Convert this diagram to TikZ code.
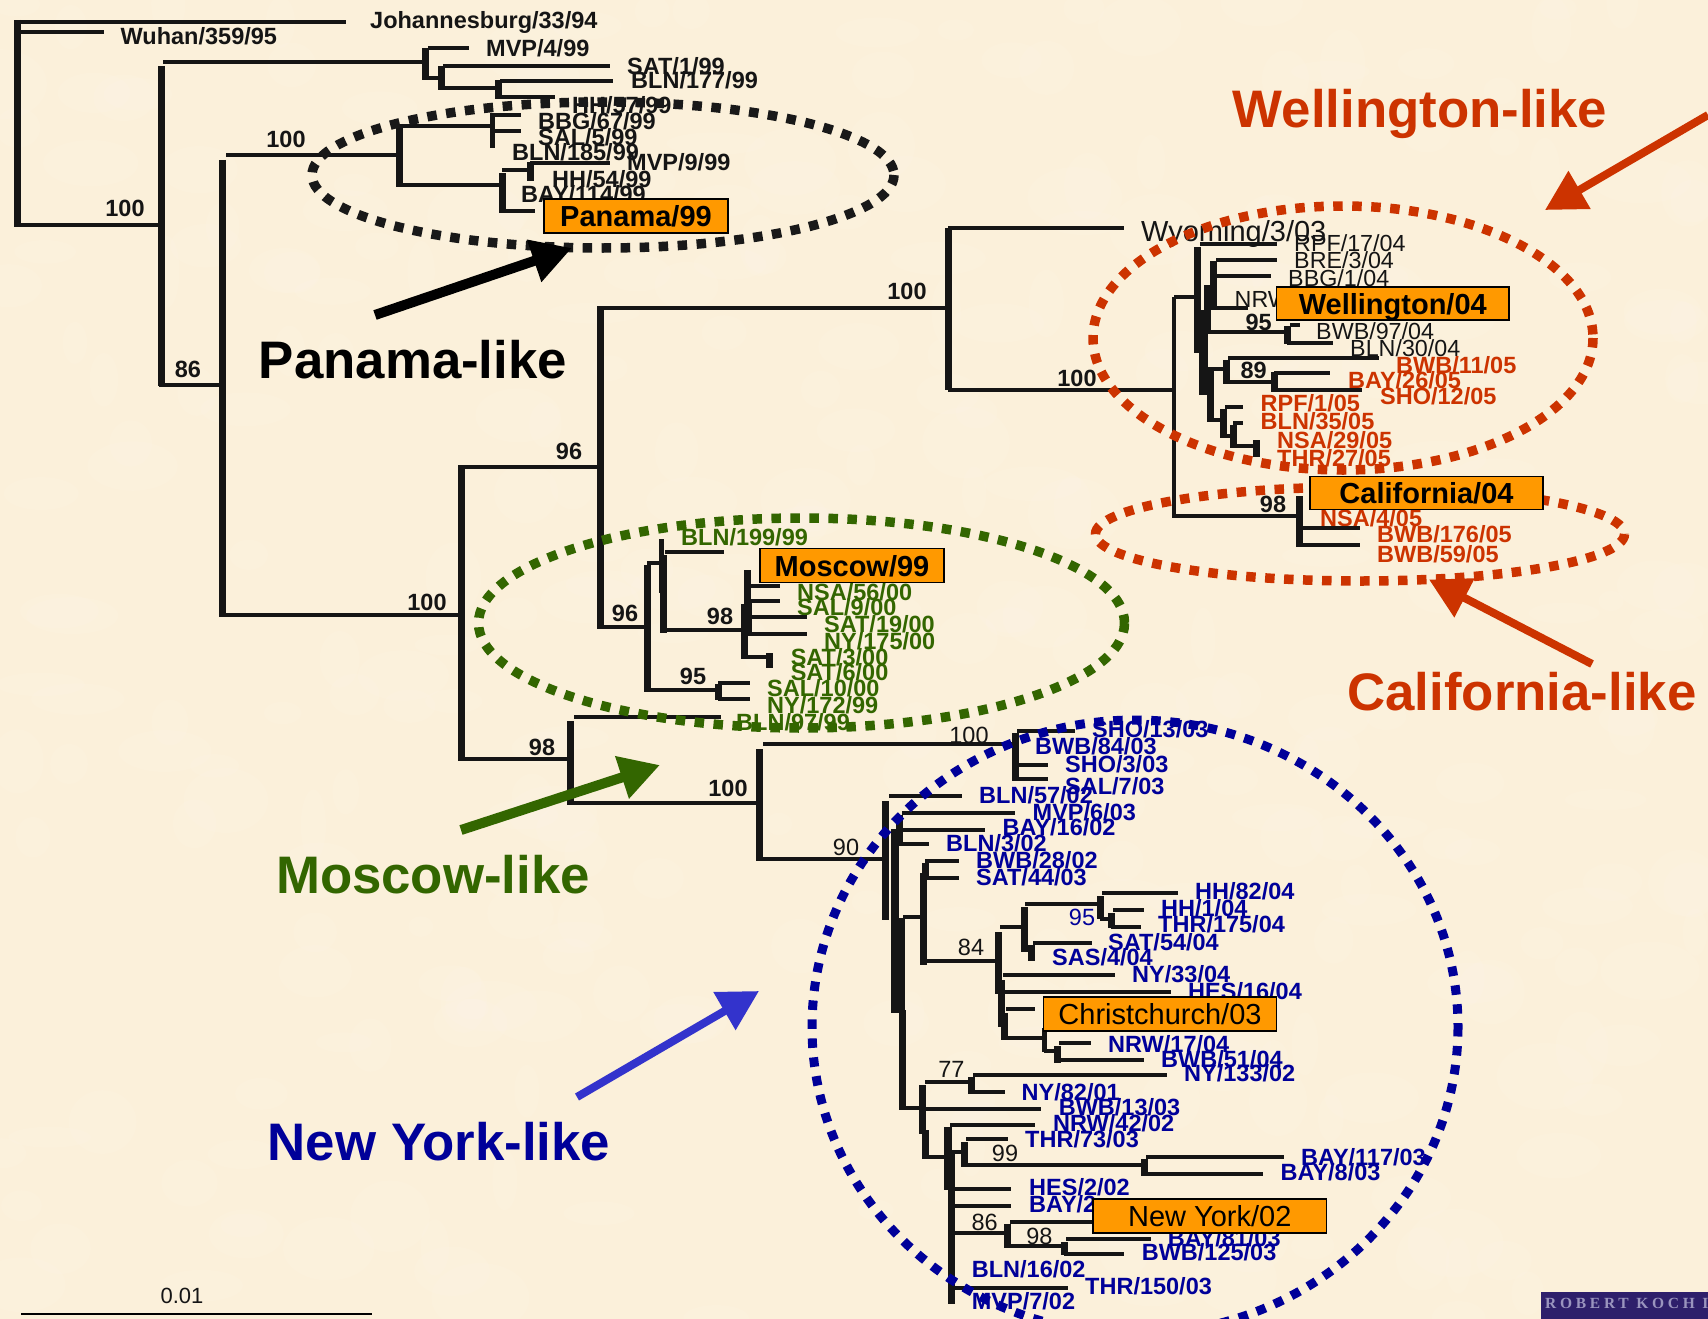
\documentclass[tikz,border=0pt]{standalone}
\usepackage{fontspec}
\setmainfont{Liberation Sans}
\newfontfamily\bannerfont{Liberation Serif}
\usetikzlibrary{arrows.meta,calc}
\definecolor{bgc}{HTML}{FBF0DA}
\definecolor{ink}{HTML}{151515}
\definecolor{redc}{HTML}{CC3300}
\definecolor{grnc}{HTML}{336600}
\definecolor{bluc}{HTML}{000099}
\definecolor{arrblue}{HTML}{3333CC}
\definecolor{boxc}{HTML}{FF9900}
\definecolor{banc}{HTML}{2E1F6B}
\definecolor{bant}{HTML}{9A94BE}
\tikzset{
  x=1pt,y=-1pt,
  hbr/.style={draw=ink,line width=4pt},
  vbr/.style={draw=ink,line width=7pt},
  lab/.style={anchor=west,inner sep=0pt,text height=17pt,text depth=0pt,font=\fontsize{23.5}{23.5}\selectfont\bfseries},
  lk/.style={lab,text=ink},
  lr/.style={lab,text=redc},
  lg/.style={lab,text=grnc},
  lb/.style={lab,text=bluc},
  lreg/.style={lab,text=ink,font=\fontsize{23.3}{23.3}\selectfont},
  sup/.style={anchor=center,inner sep=0pt,text=ink,text height=17pt,text depth=0pt,font=\fontsize{23.5}{23.5}\selectfont\bfseries},
  supreg/.style={sup,font=\fontsize{23.5}{23.5}\selectfont},
  strainbox/.style={inner sep=0pt,text=black,text height=21pt,text depth=0pt,font=\fontsize{29}{29}\selectfont\bfseries},
  strainreg/.style={strainbox,font=\fontsize{29}{29}\selectfont},
  dots/.style={line width=9.5pt,dash pattern=on 9.5pt off 9.5pt},
  biglab/.style={anchor=center,inner sep=0pt,text height=38pt,text depth=0pt,font=\fontsize{52.8}{53}\selectfont\bfseries},
  bigarrow/.style={-{Triangle[length=40pt,width=42pt]},line width=8pt},
}
\newcommand{\leafb}[8]{% name, style, lx, ly, text, x0, x1, y
  \node[#2] (#1) at (#3,#4) {#5};
  \coordinate (#1-a) at (#6,#8);
  \coordinate (#1-b) at (#7,#8);
  \draw[hbr] (#1-a) -- (#1-b);}
\newcommand{\hb}[3]{\draw[hbr] (#1,#3) -- (#2,#3);}
\newcommand{\vb}[4][7pt]{\draw[vbr,line width=#1] (#2,#3) -- (#2,#4);}
\newcommand{\straintext}[7]{% name style x0 y0 x1 y1 text
  \path (#3,#4) coordinate (#1-nw) (#5,#6) coordinate (#1-se);
  \draw[draw=black,line width=1.6pt,fill=boxc] (#1-nw) rectangle (#1-se);
  \node[#2] (#1) at ($(#1-nw)!0.5!(#1-se)$) {#7};}
\begin{document}
\begin{tikzpicture}
\useasboundingbox (0,0) rectangle (1708,1319);
\clip (0,0) rectangle (1708,1319);
\fill[bgc] (0,0) rectangle (1708,1319);
% faint mottled paper texture
\pgfmathsetseed{11}
\foreach \i in {1,...,320}{
  \pgfmathsetmacro{\bx}{rnd*1708}
  \pgfmathsetmacro{\by}{rnd*1319}
  \pgfmathsetmacro{\brx}{12+rnd*38}
  \pgfmathsetmacro{\bry}{10+rnd*26}
  \fill[white,opacity=0.07] (\bx,\by) ellipse [x radius=\brx,y radius=\bry];
}
% --- root ---
\vb[6.5pt]{17.6}{20}{227}
\leafb{joh}{lk}{370}{20}{Johannesburg/33/94}{17}{346}{22}
\leafb{wuh}{lk}{120.5}{36}{Wuhan/359/95}{17}{104}{32}
\hb{15}{161}{225}
\node[sup] (s1) at (125,208) {100};
\vb{161}{66}{386}
\hb{163}{422}{62}
\vb{425.5}{48}{80}
\leafb{mvp4}{lk}{486}{48}{MVP/4/99}{428}{469}{48}
\hb{425}{440}{78}
\vb{441}{66}{90}
\leafb{sat1}{lk}{627}{66}{SAT/1/99}{443}{610}{66}
\hb{441}{498}{88}
\vb{498}{80}{99}
\leafb{bln177}{lk}{631}{80}{BLN/177/99}{500}{613}{81}
\leafb{hh57}{lk}{572}{105}{HH/57/99}{498}{555}{97}
% Panama clade
\hb{159}{222}{385}
\node[sup] (s2) at (188,369) {86};
\vb{222}{160}{617}
\hb{226}{396}{155}
\node[sup] (s3) at (286,139) {100};
\vb{399}{124}{187}
\hb{399}{492}{126}
\vb[5pt]{492}{113}{148}
\leafb{bbg67}{lk}{538}{121}{BBG/67/99}{492}{521}{115}
\leafb{sal5}{lk}{538}{137}{SAL/5/99}{492}{521}{131}
\node[lk] (bln185) at (512,152) {BLN/185/99};
\hb{399}{502}{185}
\vb{502}{173}{213}
\hb{502}{535}{211}
\hb{502}{531}{170}
\vb{530}{162}{181}
\leafb{mvp9}{lk}{627}{162}{MVP/9/99}{530}{610}{163}
\node[lk] (hh54) at (552,179) {HH/54/99};
\node[lk] (bay114) at (521,194) {BAY/114/99};
% backbone
\hb{222}{461}{615}
\node[sup] (s4) at (427,602) {100};
\vb{461}{465}{761}
\hb{465}{600}{467}
\node[sup] (s5) at (569,451) {96};
\vb{600.4}{306}{629}
\hb{600}{948}{308}
\node[sup] (s6) at (907,291) {100};
\vb{948}{228}{390}
% Wellington / California
\leafb{wyo}{lreg,font=\fontsize{29}{29}\selectfont,text height=21pt}{1141}{231}{Wyoming/3/03}{948}{1123.5}{228}
\hb{948}{1174}{390}
\node[sup] (s7) at (1077,378) {100};
\vb[4pt]{1174}{297}{518}
\hb{1174}{1195}{297}
\vb{1197}{247}{353}
\leafb{rpf17}{lreg}{1294}{243}{RPF/17/04}{1200}{1276.5}{244}
\vb{1213.4}{261}{310}
\vb{1207}{285}{330}
\leafb{bre3}{lreg}{1294}{260}{BRE/3/04}{1216}{1277}{260}
\leafb{bbg1}{lreg}{1288}{278}{BBG/1/04}{1216}{1271}{276}
\leafb{nrw}{lreg}{1234.5}{299}{NRW}{1213}{1248}{308}
\vb[9pt]{1203}{310}{395}
\node[sup] (s8) at (1258.6,322) {95};
\hb{1203}{1285}{332}
\vb{1287}{326}{344}
\leafb{bwb97}{lreg}{1316}{331}{BWB/97/04}{1290}{1299.5}{325}
\leafb{bln30}{lreg}{1350}{348}{BLN/30/04}{1287}{1333}{343}
\hb{1207}{1224}{369}
\vb{1226}{360}{384}
\leafb{bwb11}{lr}{1396}{365}{BWB/11/05}{1228}{1379}{358}
\node[sup] (s9) at (1253.6,370) {89};
\hb{1226}{1274}{382}
\vb{1274}{372}{392}
\leafb{bay26}{lr}{1348}{380}{BAY/26/05}{1274}{1330}{373}
\leafb{sho12}{lr}{1380}{396}{SHO/12/05}{1274}{1362}{390}
\vb{1210}{370}{422}
\hb{1210}{1222}{420}
\vb{1223}{409}{438}
\leafb{rpf1}{lr}{1260.5}{403}{RPF/1/05}{1225}{1242.5}{407}
\hb{1223}{1232}{436}
\vb{1233}{425}{448}
\leafb{bln35}{lr}{1260.5}{421}{BLN/35/05}{1233}{1242.5}{423}
\hb{1233}{1256}{446}
\vb{1256.6}{440}{457}
\node[lr] (nsa29) at (1277,440) {NSA/29/05};
\node[lr] (thr27) at (1277,458) {THR/27/05};
\hb{1174}{1299}{516}
\node[sup] (s10) at (1273,504) {98};
\vb{1299.5}{496}{547}
\node[lr] (nsa4) at (1320,518) {NSA/4/05};
\leafb{bwb176}{lr}{1377}{534}{BWB/176/05}{1299}{1360}{528}
\leafb{bwb59}{lr}{1377}{554}{BWB/59/05}{1299}{1360}{545}
% Moscow clade
\hb{600}{647}{627}
\node[sup] (s11) at (625,613) {96};
\vb{647}{565}{692}
\hb{647}{660}{563}
\vb[5pt]{661}{539}{593}
\vb{663}{555}{633}
\leafb{bln199}{lg}{681}{537}{BLN/199/99}{665}{723.7}{552}
\hb{663}{742}{630}
\node[sup] (s12) at (720,616) {98};
\vb{747}{570}{633}
\vb{744}{604}{659}
\vb[8pt]{748}{600}{633}
\leafb{nsa56}{lg}{797}{592}{NSA/56/00}{747}{779.5}{586}
\leafb{sal9}{lg}{797}{607}{SAL/9/00}{747}{779.5}{601}
\leafb{sat19}{lg}{824}{624}{SAT/19/00}{750}{807}{617}
\leafb{ny175}{lg}{824}{641}{NY/175/00}{747}{807}{634}
\hb{744}{769}{657}
\vb{769.5}{653}{668}
\node[lg] (sat3) at (790.6,657) {SAT/3/00};
\node[lg] (sat6) at (790.6,672) {SAT/6/00};
\hb{647}{716}{690}
\vb{718}{684}{700}
\node[sup] (s13) at (693,676) {95};
\leafb{sal10}{lg}{767}{688}{SAL/10/00}{718}{750}{683}
\leafb{ny172}{lg}{767}{705}{NY/172/99}{718}{750}{699}
% New York clade
\hb{461}{574}{759}
\node[sup] (s14) at (542,747) {98};
\vb{570.5}{721}{805}
\leafb{bln97}{lg}{736}{722}{BLN/97/99}{574}{721}{717}
\hb{568}{759}{803}
\node[sup] (s15) at (728,788) {100};
\vb{759.4}{749}{861}
\hb{763}{1012.5}{744}
\node[supreg] (s16) at (969,735) {100};
\vb{1015}{733}{781}
\leafb{sho13}{lb}{1092}{729}{SHO/13/03}{1017}{1074.6}{731}
\node[lb] (bwb84) at (1035,746) {BWB/84/03};
\leafb{sho3}{lb}{1065}{764}{SHO/3/03}{1015}{1048}{765}
\leafb{sal7}{lb}{1065}{786}{SAL/7/03}{1015}{1048}{779}
\hb{759}{885}{859}
\node[supreg] (s17) at (846,847) {90};
\vb{885.4}{801}{920}
\leafb{bln57}{lb}{979}{795}{BLN/57/02}{889}{962}{796}
\vb{899}{815}{846}
\leafb{mvp6}{lb}{1032.5}{812}{MVP/6/03}{902}{1015}{813}
\leafb{bay16}{lb}{1002.5}{827}{BAY/16/02}{899}{985}{830}
\leafb{bln3}{lb}{946}{843}{BLN/3/02}{899}{929}{844}
\vb[8pt]{895}{829}{1013}
\vb[13pt]{898.6}{918}{1013}
\vb{902.5}{1010}{1110}
\hb{903}{921}{917}
\vb{923}{873}{965}
\vb{925.4}{863}{880}
\leafb{bwb28}{lb}{976}{860}{BWB/28/02}{925}{958.6}{861}
\leafb{sat44}{lb}{976}{877}{SAT/44/03}{925}{958.6}{878}
\hb{923}{998}{961}
\node[supreg] (s18) at (971,947) {84};
\vb{998.6}{932}{994}
\hb{1000}{1023}{927}
\vb{1024.6}{907}{952}
\hb{1025}{1098}{904}
\vb{1100.7}{896}{919}
\leafb{hh82}{lb}{1195}{891}{HH/82/04}{1102}{1177.5}{893}
\hb{1100}{1110}{919}
\vb{1111}{913}{928}
\leafb{hh1}{lb}{1161}{908}{HH/1/04}{1113}{1143.6}{910}
\leafb{thr175}{lb}{1158}{924}{THR/175/04}{1111}{1140.7}{927}
\node[supreg,text=bluc] (s19) at (1082,917) {95};
\hb{1024}{1030}{950}
\vb{1031}{945}{961}
\leafb{sat54}{lb}{1108}{942}{SAT/54/04}{1033}{1092}{943}
\node[lb] (sas4) at (1052,957) {SAS/4/04};
\leafb{ny33}{lb}{1132}{974}{NY/33/04}{1003}{1115}{975}
\vb{1001.4}{980}{1027}
\leafb{hes16}{lb}{1188}{991}{HES/16/04}{1003}{1171}{992}
\hb{1006}{1034.6}{1009}
\vb{1004}{1013}{1040}
\hb{1004}{1046}{1038}
\vb[5pt]{1044}{1028}{1052}
\hb{1044}{1056}{1051}
\vb{1057}{1046}{1063}
\leafb{nrw17}{lb}{1108}{1044}{NRW/17/04}{1059}{1091}{1043}
\leafb{bwb51}{lb}{1161}{1059}{BWB/51/04}{1057}{1144}{1060}
\hb{902}{921}{1108}
\vb{922.7}{1085}{1134}
\hb{925}{970.5}{1082}
\node[supreg] (s20) at (951.4,1069) {77};
\vb{971}{1077}{1094}
\leafb{ny133}{lb}{1184}{1073}{NY/133/02}{973}{1167}{1075}
\leafb{ny82}{lb}{1021.5}{1092}{NY/82/01}{971}{1005}{1092}
\leafb{bwb13}{lb}{1058.6}{1107}{BWB/13/03}{926}{1040.6}{1109}
\vb{925.4}{1130}{1159}
\hb{925}{949}{1157}
\vb[8pt]{948.4}{1127}{1190}
\leafb{nrw42}{lb}{1053}{1123}{NRW/42/02}{950}{1035}{1125}
\vb{951.4}{1150}{1304}
\hb{951}{963}{1152}
\vb{964}{1142}{1167}
\leafb{thr73}{lb}{1025}{1139}{THR/73/03}{966}{1008}{1139}
\hb{964}{1143}{1165}
\node[supreg] (s21) at (1005,1153) {99};
\vb{1144}{1159}{1176}
\leafb{bay117}{lb}{1301}{1157}{BAY/117/03}{1146}{1283.6}{1157}
\leafb{bay8}{lb}{1280.5}{1172}{BAY/8/03}{1144}{1262.5}{1174}
\leafb{hes2}{lb}{1029}{1187}{HES/2/02}{951}{1011}{1189}
\leafb{bay2}{lb}{1029}{1204}{BAY/2}{951}{1011}{1206}
\hb{951}{1005}{1233}
\node[supreg] (s22) at (984.7,1222) {86};
\vb{1007}{1224}{1248}
\hb{1010}{1093}{1222}
\hb{1007}{1062}{1246}
\node[supreg] (s23) at (1039.4,1236) {98};
\vb{1064}{1242}{1255}
\leafb{bay81}{lb}{1167.6}{1238}{BAY/81/03}{1066}{1151}{1239}
\leafb{bwb125}{lb}{1141.6}{1252}{BWB/125/03}{1064}{1124}{1254}
\node[lb] (bln16) at (971.7,1269) {BLN/16/02};
\leafb{thr150}{lb}{1085}{1286}{THR/150/03}{951}{1068}{1288}
\node[lb] (mvp7) at (971.7,1301) {MVP/7/02};
% --- dotted ellipses ---
\draw[dots,black!90] (603,175) ellipse [x radius=291,y radius=73];
\draw[dots,redc] (1343,338) ellipse [x radius=250,y radius=132];
\draw[dots,redc] (1360,534) ellipse [x radius=264.5,y radius=47];
\draw[dots,grnc] (801.5,623) ellipse [x radius=323,y radius=105];
\draw[dots,bluc,line width=9pt] (1135,1027) ellipse [x radius=323,y radius=307];
% --- strain boxes ---
\straintext{panama}{strainbox}{544}{199}{728}{233}{Panama/99}
\straintext{wellington}{strainbox}{1276.5}{287}{1509}{320}{Wellington/04}
\straintext{california}{strainbox}{1310}{476.5}{1543}{509.5}{California/04}
\straintext{moscow}{strainbox}{760}{548.5}{944}{582.5}{Moscow/99}
\straintext{christchurch}{strainreg}{1043.6}{997}{1276.4}{1031}{Christchurch/03}
\straintext{newyork}{strainreg}{1093}{1199}{1326.5}{1233}{New York/02}
% --- clade labels and arrows ---
\node[biglab,text=redc] (wl) at (1420,109) {Wellington-like};
\node[biglab,text=black] (pl) at (413,359) {Panama-like};
\node[biglab,text=redc] (cl) at (1522,691) {California-like};
\node[biglab,text=grnc] (ml) at (433,874) {Moscow-like};
\node[biglab,text=bluc] (nl) at (439,1141) {New York-like};
\coordinate (pa) at (375,315); \coordinate (pb) at (572,248);
\coordinate (wa) at (1708,115); \coordinate (wb) at (1545,210);
\coordinate (ca) at (1592,664); \coordinate (cb) at (1429,579.5);
\coordinate (ma) at (461,830); \coordinate (mb) at (660,765);
\coordinate (na) at (577,1097); \coordinate (nb) at (759,991);
\draw[bigarrow,black,line width=10pt] (pa) -- (pb);
\draw[bigarrow,redc] (wa) -- (wb);
\draw[bigarrow,redc] (ca) -- (cb);
\draw[bigarrow,grnc,line width=10pt] (ma) -- (mb);
\draw[bigarrow,arrblue] (na) -- (nb);
% --- scale bar ---
\coordinate (sa) at (21,1313.7); \coordinate (sb) at (372,1313.7);
\draw[black,line width=1.6pt] (sa) -- (sb);
\node[anchor=center,inner sep=0pt,text=ink,font=\fontsize{22}{22}\selectfont] (scale) at (182,1296) {0.01};
% --- banner ---
\fill[banc] (1541,1292) rectangle (1708,1319);
\node[anchor=west,inner sep=0pt,text=bant,font=\bannerfont\fontsize{15.5}{15.5}\selectfont\bfseries] (banner) at (1545,1303) {\addfontfeature{LetterSpace=24}ROBERT KOCH I};
\end{tikzpicture}
\end{document}
